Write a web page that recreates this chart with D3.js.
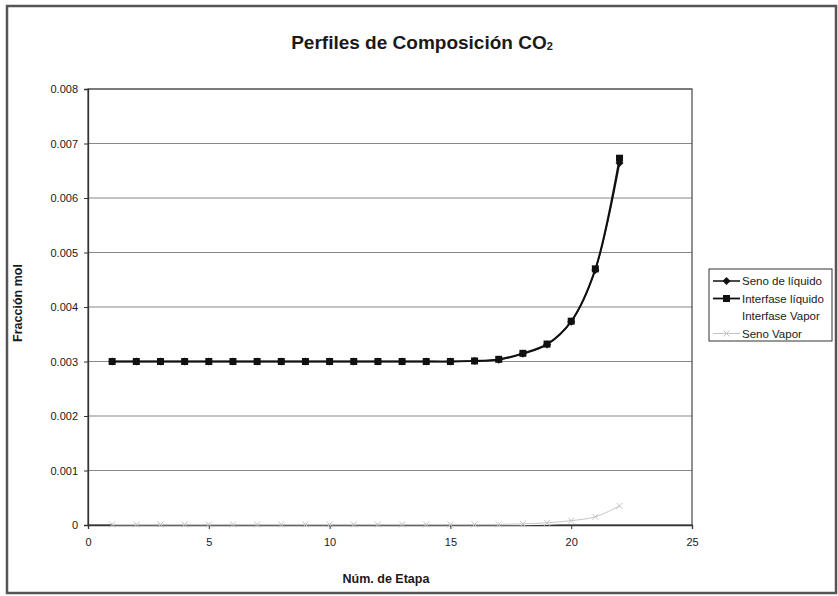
<!DOCTYPE html>
<html>
<head>
<meta charset="utf-8">
<style>
  body { margin: 0; background: #fff; }
  text { font-family: "Liberation Sans", Arial, sans-serif; fill: #1a1a1a; }
</style>
</head>
<body>
<svg id="chart" width="838" height="596"></svg>
<script src="https://cdn.jsdelivr.net/npm/d3@7"></script>
<script>
// stages 1..22
const etapas = d3.range(1, 23)

const senoLiquido = [0.003, 0.003, 0.003, 0.003, 0.003, 0.003, 0.003, 0.003, 0.003, 0.003,
  0.003, 0.003, 0.003, 0.003, 0.003, 0.00301, 0.00303, 0.00314, 0.00331, 0.00373, 0.00468, 0.00664]
const interfaseLiquido = [0.003, 0.003, 0.003, 0.003, 0.003, 0.003, 0.003, 0.003, 0.003, 0.003,
  0.003, 0.003, 0.003, 0.003, 0.003, 0.00301, 0.00304, 0.00315, 0.00332, 0.00374, 0.0047, 0.00673]
const interfaseVapor = [0.00001, 0.00001, 0.00001, 0.00001, 0.00001, 0.00001, 0.00001, 0.00001, 0.00001, 0.00001,
  0.00001, 0.00001, 0.00001, 0.00001, 0.00001, 0.00001, 0.00001, 0.00001, 0.00002, 0.00004, 0.00008, 0.0002]
const senoVapor = [0.00001, 0.00001, 0.00001, 0.00001, 0.00001, 0.00001, 0.00001, 0.00001, 0.00001, 0.00001,
  0.00001, 0.00001, 0.00001, 0.00001, 0.00001, 0.00001, 0.00001, 0.00002, 0.00004, 0.00008, 0.00015, 0.00035]

const xTicks = [0, 5, 10, 15, 20, 25]
const yTicks = [0, 0.001, 0.002, 0.003, 0.004, 0.005, 0.006, 0.007, 0.008]

const series = [
  { name: "Seno de líquido", values: senoLiquido, color: "#111", marker: "diamond", width: 1.5 },
  { name: "Interfase líquido", values: interfaseLiquido, color: "#111", marker: "square", width: 1.8 },
  { name: "Interfase Vapor", values: interfaseVapor, color: "#fff", marker: "none", width: 1.5 },
  { name: "Seno Vapor", values: senoVapor, color: "#c4c4c4", marker: "cross", width: 1 }
]

const svg = d3.select("#chart")

// outer frame
svg.append("rect")
  .attr("x", 7).attr("y", 6).attr("width", 829).attr("height", 587)
  .attr("fill", "none").attr("stroke", "#555").attr("stroke-width", 2.5)

const pLeft = 88, pRight = 692, pTop = 89, pBottom = 525

const x = d3.scaleLinear().domain([0, 25]).range([pLeft, pRight])
const y = d3.scaleLinear().domain([0, 0.008]).range([pBottom, pTop])

// gridlines
svg.append("g").selectAll("line").data(yTicks.slice(1)).enter().append("line")
  .attr("x1", pLeft).attr("x2", pRight)
  .attr("y1", d => y(d)).attr("y2", d => y(d))
  .attr("stroke", "#888").attr("stroke-width", 1.2)

// plot border
svg.append("rect")
  .attr("x", pLeft).attr("y", pTop).attr("width", pRight - pLeft).attr("height", pBottom - pTop)
  .attr("fill", "none").attr("stroke", "#555").attr("stroke-width", 1.3)

const xAxis = svg.append("g").attr("transform", `translate(0,${pBottom})`)
  .call(d3.axisBottom(x).tickValues(xTicks).tickSize(4).tickPadding(9).tickFormat(d3.format("d")))
const yAxis = svg.append("g").attr("transform", `translate(${pLeft},0)`)
  .call(d3.axisLeft(y).tickValues(yTicks).tickSize(4).tickPadding(6).tickFormat(d => d === 0 ? "0" : d3.format(".3f")(d)))
for (const ax of [xAxis, yAxis]) {
  ax.select(".domain").attr("stroke", "#333").attr("stroke-width", 1.3)
  ax.selectAll(".tick line").attr("stroke", "#333")
  ax.selectAll("text").style("font-size", "11px").attr("fill", "#1a1a1a")
}

const line = d3.line()
  .x((d, i) => x(etapas[i]))
  .y(d => y(d))
  .curve(d3.curveCatmullRom.alpha(0.5))

function drawMarker(g, kind, cx, cy, color) {
  if (kind === "diamond") {
    g.append("path").attr("d", `M${cx},${cy - 4}L${cx + 4},${cy}L${cx},${cy + 4}L${cx - 4},${cy}Z`).attr("fill", color)
  } else if (kind === "square") {
    g.append("rect").attr("x", cx - 3.5).attr("y", cy - 3.5).attr("width", 7).attr("height", 7).attr("fill", color)
  } else if (kind === "cross") {
    g.append("path").attr("d", `M${cx - 3},${cy - 3}L${cx + 3},${cy + 3}M${cx - 3},${cy + 3}L${cx + 3},${cy - 3}`)
      .attr("stroke", color).attr("stroke-width", 1)
  }
}

// draw order: vapour first, then liquid
const order = [2, 3, 1, 0]
for (const k of order) {
  const s = series[k]
  const g = svg.append("g")
  g.append("path").attr("d", line(s.values))
    .attr("fill", "none").attr("stroke", s.color).attr("stroke-width", s.width)
  s.values.forEach((v, i) => drawMarker(g, s.marker, x(etapas[i]), y(v), s.color))
}

// title
svg.append("text").attr("x", 422).attr("y", 49).attr("text-anchor", "middle")
  .style("font-size", "19px").style("font-weight", "bold")
  .text("Perfiles de Composición CO")
  .append("tspan").style("font-size", "11px").attr("dy", 1).text("2")

// axis titles
svg.append("text").attr("x", (pLeft + pRight) / 2 - 4).attr("y", 583).attr("text-anchor", "middle")
  .style("font-size", "12.5px").style("font-weight", "bold").text("Núm. de Etapa")
svg.append("text").attr("transform", `translate(18,${(pTop + pBottom) / 2 - 4}) rotate(-90)`)
  .attr("text-anchor", "middle").attr("dy", "0.35em")
  .style("font-size", "12.5px").style("font-weight", "bold").text("Fracción mol")

// legend
const lg = svg.append("g")
lg.append("rect").attr("x", 709).attr("y", 269).attr("width", 123).attr("height", 72)
  .attr("fill", "#fff").attr("stroke", "#333").attr("stroke-width", 1)
series.forEach((s, i) => {
  const ly = 281 + i * 17.5
  lg.append("line").attr("x1", 713).attr("x2", 740).attr("y1", ly).attr("y2", ly)
    .attr("stroke", s.color).attr("stroke-width", s.width)
  drawMarker(lg, s.marker, 726.5, ly, s.color)
  lg.append("text").attr("x", 742).attr("y", ly).attr("dy", "0.35em")
    .style("font-size", "11.5px").text(s.name)
})
</script>
</body>
</html>
